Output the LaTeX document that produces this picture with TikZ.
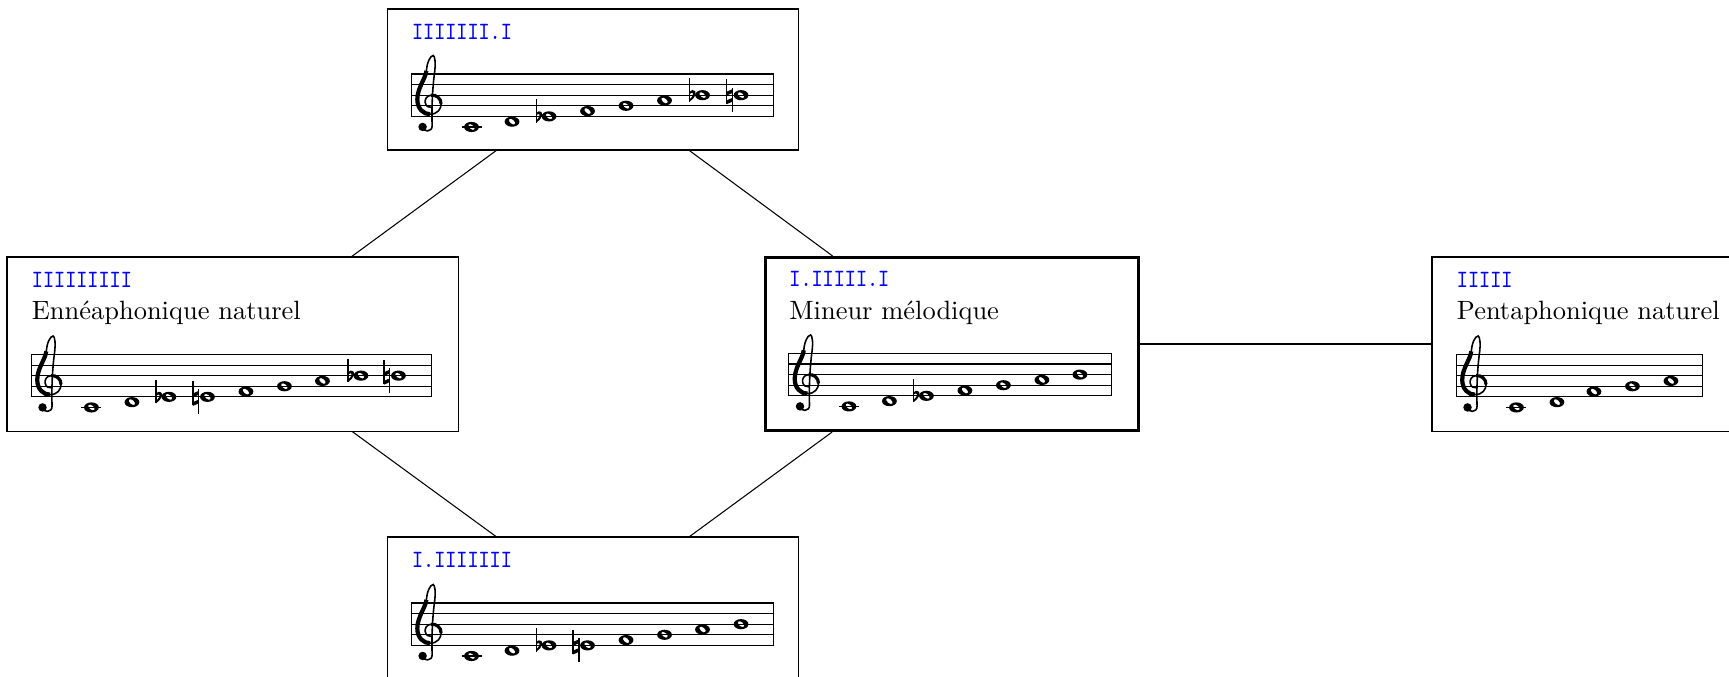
\documentclass[tikz,border=0pt]{standalone}
\usepackage{fontspec}
\usepackage{graphicx}
\usepackage{tikz}
\usepackage{xcolor}

\tikzset{
    scalebox/.style={draw, inner sep=0pt, line width=0.4pt},
    current/.style={scalebox, line width=1.2pt},
    scalename/.style={font=\fontsize{9.4}{11}\ttfamily, text=blue, inner sep=0pt, anchor=base west},
    scaletitle/.style={font=\normalsize, inner sep=0pt, anchor=base west},
    staffline/.style={line width=0.4pt},
    link/.style={line width=0.4pt},
}
\newcommand{\scalecode}[1]{\scalebox{0.85}[1]{#1}}

% treble clef, drawn in staff spaces
\newcommand{\gclef}{%
    \begin{scope}[shift={(18.5,31.8)}, x=4pt, y=4pt]
        \draw[line width=0.6pt] (-0.72,-2.0) .. controls (-0.7,-2.5) and (0.25,-2.55) .. (0.2,-1.85)
            .. controls (0.15,-0.5) and (0.2,1.5) .. (0.45,3.3)
            .. controls (0.55,4.0) and (0.45,4.75) .. (0.3,4.75)
            .. controls (0.0,4.75) and (-0.3,4.0) .. (-0.35,3.3)
            .. controls (-0.4,2.6) and (-1.2,1.7) .. (-1.2,0.6)
            .. controls (-1.2,-0.3) and (-0.6,-0.8) .. (0.0,-0.8)
            .. controls (0.7,-0.8) and (1.05,-0.3) .. (1.05,0.17)
            .. controls (1.05,0.7) and (0.6,1.05) .. (0.1,1.0)
            .. controls (-0.35,0.95) and (-0.5,0.6) .. (-0.45,0.3)
            .. controls (-0.4,-0.05) and (-0.1,-0.2) .. (0.15,-0.15);
        \draw[line width=1.6pt] (-0.35,3.3) .. controls (-0.4,2.6) and (-1.2,1.7) .. (-1.2,0.6)
            .. controls (-1.2,-0.3) and (-0.6,-0.8) .. (0.0,-0.8);
        \draw[line width=1.2pt] (1.05,0.17) .. controls (1.05,0.7) and (0.6,1.05) .. (0.1,1.0);
        \fill (-0.7,-2.0) circle (0.4);
    \end{scope}}
% staff of given length (px)
\newcommand{\drawstaff}[1]{%
    \draw[staffline] (0,0) rectangle (#1,42.4);
    \foreach \k in {1,2,3} \draw[staffline] (0,\k*10.6) -- (#1,\k*10.6);
    \gclef}
% whole note: x (px), step above bottom line
\newcommand{\wnote}[2]{%
    \begin{scope}[shift={(#1,{42.4-5.3*(#2)})}, x=4pt, y=4pt]
        \fill[even odd rule] (0,0) ellipse [x radius=0.7, y radius=0.48]
            (0,0) ellipse [x radius=0.36, y radius=0.2, rotate=-40];
    \end{scope}}
\newcommand{\ledger}[1]{\draw[staffline] (#1-10,53) -- (#1+10,53);}
\newcommand{\flatsign}[2]{%
    \begin{scope}[shift={(#1,{42.4-5.3*(#2)})}, x=4pt, y=4pt]
        \draw[line width=0.5pt] (0,1.6) -- (0,-0.6);
        \fill (0,-0.6) .. controls (0.55,-0.25) and (0.85,0.45) .. (0.22,0.48)
            .. controls (0.1,0.48) and (0.05,0.4) .. (0,0.32) -- (0,0.12)
            .. controls (0.3,0.38) and (0.55,0.15) .. (0,-0.38) -- cycle;
    \end{scope}}
\newcommand{\natsign}[2]{%
    \begin{scope}[shift={(#1,{42.4-5.3*(#2)})}, x=4pt, y=4pt]
        \draw[line width=0.55pt] (-0.28,1.5) -- (-0.28,-0.8);
        \draw[line width=0.55pt] (0.28,0.7) -- (0.28,-1.6);
        \fill (-0.28,0.32) -- (0.28,0.56) -- (0.28,0.2) -- (-0.28,-0.04) -- cycle;
        \fill (-0.28,-0.5) -- (0.28,-0.26) -- (0.28,-0.62) -- (-0.28,-0.86) -- cycle;
    \end{scope}}

\begin{document}
\begin{tikzpicture}[x=0.378pt,y=-0.378pt]
    \useasboundingbox (0,0) rectangle (1729,676);
    \clip (0,0) rectangle (1729,676);
    % scales
    \node[scalebox, minimum width=155.7pt, minimum height=53.3pt] (sTop) at (593,79.5) {};
    \node[scalebox, minimum width=170.5pt, minimum height=65.8pt] (sLeft) at (232.5,344) {};
    \node[current, minimum width=141.0pt, minimum height=65.4pt] (sMid) at (952,344) {};
    \node[scalebox, minimum width=119.1pt, minimum height=65.8pt] (sRight) at (1589.5,344) {};
    \node[scalebox, minimum width=155.7pt, minimum height=53.3pt] (sBot) at (593,607.5) {};
    % links
    \draw[link] (sTop) -- (sLeft);
    \draw[link] (sTop) -- (sMid);
    \draw[link] (sLeft) -- (sBot);
    \draw[link] (sMid) -- (sBot);
    \draw[link] (sMid) -- (sRight);

    \begin{scope}[shift={(sTop.north west)}]
        \node[scalename] (nTop) at (25,31) {\scalecode{IIIIIII.I}};
        \begin{scope}[shift={(25,65.5)}]
            \drawstaff{362}
            \ledger{60}
            \foreach \nx/\st in {60/-2,100.5/-1,137.5/0,176/1,214.5/2,253/3,291/4,329.5/4}
                {\wnote{\nx}{\st}}
            \flatsign{124.7}{0} \flatsign{278.2}{4} \natsign{317.8}{4}
        \end{scope}
    \end{scope}

    \begin{scope}[shift={(sLeft.north west)}]
        \node[scalename] (nLeft) at (25,31) {\scalecode{IIIIIIIII}};
        \node[scaletitle] (tLeft) at (25,63.5) {Ennéaphonique naturel};
        \begin{scope}[shift={(25,98)}]
            \drawstaff{400}
            \ledger{60}
            \foreach \nx/\st in {60/-2,100.5/-1,137.5/0,176/0,214.5/1,253/2,291/3,329.5/4,367/4}
                {\wnote{\nx}{\st}}
            \flatsign{124.7}{0} \natsign{164.3}{0} \flatsign{316.7}{4} \natsign{355.3}{4}
        \end{scope}
    \end{scope}

    \begin{scope}[shift={(sMid.north west)}]
        \node[scalename] (nMid) at (25,31) {\scalecode{I.IIIII.I}};
        \node[scaletitle] (tMid) at (25,63.5) {Mineur mélodique};
        \begin{scope}[shift={(25,97.5)}]
            \drawstaff{323}
            \ledger{60}
            \foreach \nx/\st in {60/-2,100.5/-1,137.5/0,176/1,214.5/2,253/3,291/4}
                {\wnote{\nx}{\st}}
            \flatsign{124.7}{0}
        \end{scope}
    \end{scope}

    \begin{scope}[shift={(sRight.north west)}]
        \node[scalename] (nRight) at (25,31) {\scalecode{IIIII}};
        \node[scaletitle] (tRight) at (25,63.5) {Pentaphonique naturel};
        \begin{scope}[shift={(25,98)}]
            \drawstaff{246.5}
            \ledger{60}
            \foreach \nx/\st in {60/-2,100.5/-1,137.5/1,176/2,214.5/3}
                {\wnote{\nx}{\st}}
        \end{scope}
    \end{scope}

    \begin{scope}[shift={(sBot.north west)}]
        \node[scalename] (nBot) at (25,31) {\scalecode{I.IIIIIII}};
        \begin{scope}[shift={(25,66.5)}]
            \drawstaff{362}
            \ledger{60}
            \foreach \nx/\st in {60/-2,100.5/-1,137.5/0,176/0,214.5/1,253/2,291/3,329.5/4}
                {\wnote{\nx}{\st}}
            \flatsign{124.7}{0} \natsign{164.3}{0}
        \end{scope}
    \end{scope}
\end{tikzpicture}
\end{document}
